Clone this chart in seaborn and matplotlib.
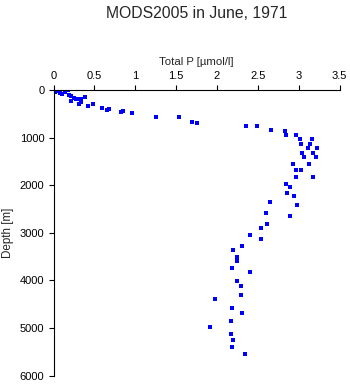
import matplotlib
matplotlib.use("Agg")
import matplotlib.pyplot as plt
import seaborn as sns
import pandas as pd

# Total phosphorus profile, June 1971 (MODS2005)
total_p = [
    0.02, 0.05, 0.08, 0.11, 0.14, 0.18, 0.19, 0.22, 0.21, 0.25,
    0.28, 0.31, 0.31, 0.34, 0.34, 0.39, 0.42, 0.48, 0.59, 0.65,
    0.68, 0.82, 0.85, 0.96, 1.26, 1.54, 1.70, 1.76,
    2.36, 2.49, 2.66, 2.83, 2.84, 2.97, 3.02, 3.16, 3.03, 3.14,
    3.12, 3.23, 3.04, 3.17, 3.06, 3.21, 2.93, 3.13, 2.97, 3.03,
    2.97, 3.17, 2.84, 2.89, 2.86, 2.94, 2.65, 2.98, 2.60, 2.89,
    2.61, 2.54, 2.41, 2.54, 2.31, 2.20, 2.24, 2.25, 2.18, 2.40,
    2.25, 2.30, 2.30, 1.98, 2.18, 2.31, 2.17, 1.92, 2.17, 2.20,
    2.19, 2.34,
]
depth = [
    36, 27, 57, 84, 36, 6, 111, 132, 237, 174,
    195, 195, 288, 195, 258, 141, 336, 300, 372, 426,
    405, 468, 447, 490, 567, 573, 666, 687,
    756, 763, 847, 855, 939, 952, 1036, 1036, 1128, 1141,
    1225, 1225, 1317, 1324, 1414, 1414, 1555, 1555, 1687, 1687,
    1834, 1834, 1975, 2044, 2164, 2233, 2353, 2422, 2590, 2653,
    2821, 2899, 3052, 3137, 3284, 3368, 3515, 3599, 3746, 3830,
    4019, 4124, 4300, 4397, 4580, 4691, 4853, 4973, 5126, 5258,
    5405, 5540,
]

x_ticks = [0, 0.5, 1, 1.5, 2, 2.5, 3, 3.5]
x_tick_labels = ["0", "0.5", "1", "1.5", "2", "2.5", "3", "3.5"]
y_ticks = [0, 1000, 2000, 3000, 4000, 5000, 6000]

df = pd.DataFrame({"Total P": total_p, "Depth": depth})

sns.set_style("ticks")
plt.rcParams["font.family"] = ["Liberation Sans", "DejaVu Sans"]

fig = plt.figure(figsize=(3.5, 3.84), dpi=100)
ax = fig.add_axes([53.5 / 350, 1 - 375.5 / 384, 286 / 350, 285.5 / 384])

sns.scatterplot(data=df, x="Total P", y="Depth", ax=ax, marker="s",
                s=6, color="#0000ff", linewidth=0, legend=False)

ax.set_xlim(0, 3.5)
ax.set_ylim(6000, 0)
ax.set_xticks(x_ticks)
ax.set_xticklabels(x_tick_labels)
ax.set_yticks(y_ticks)

ax.xaxis.set_ticks_position("top")
ax.xaxis.set_label_position("top")
ax.spines["right"].set_visible(False)
ax.spines["bottom"].set_visible(False)
for sp in ("top", "left"):
    ax.spines[sp].set_linewidth(0.8)
    ax.spines[sp].set_color("black")

ax.tick_params(axis="both", length=3.5, width=0.8, color="black",
               labelsize=8, pad=3, labelcolor="black")
ax.set_xlabel("Total P [\u00b5mol/l]", fontsize=8.2, labelpad=4)
ax.set_ylabel("Depth [m]", fontsize=8.4, labelpad=4)

fig.text(196.5 / 350, 1 - 13 / 384, "MODS2005 in June, 1971",
         ha="center", va="center", fontsize=11.3)

fig.savefig("out.png", dpi=100, facecolor="white")
